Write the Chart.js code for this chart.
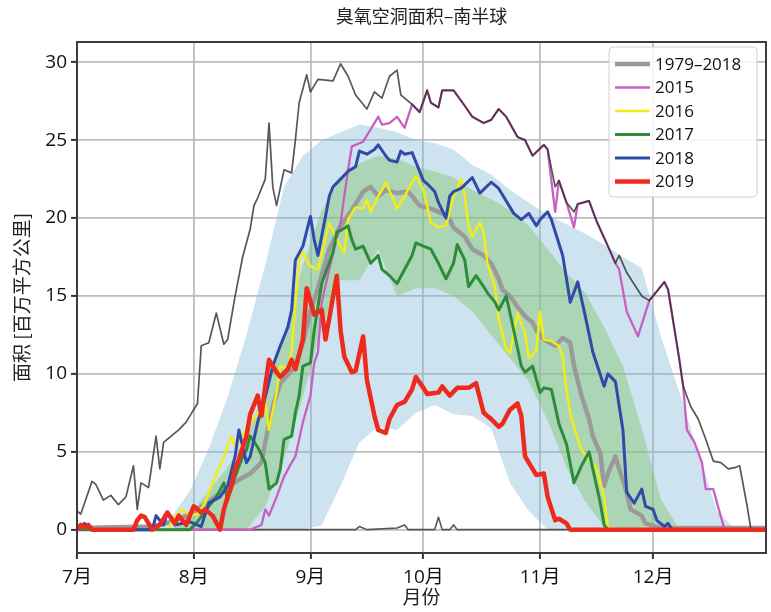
<!DOCTYPE html>
<html>
<head>
<meta charset="utf-8">
<script src="https://cdn.jsdelivr.net/npm/chart.js@4.4.1/dist/chart.umd.min.js"></script>
<style>
html, body { margin: 0; padding: 0; background: #fff; }
</style>
</head>
<body>
<canvas id="grafico" width="771" height="612"></canvas>
<script>
// dias contados a partir de 1 de julho
var monthTicks = [0, 31, 62, 92, 123, 153];
var monthLabels = ['7月', '8月', '9月', '10月', '11月', '12月'];
var yTicks = [0, 5, 10, 15, 20, 25, 30];
var legendLabels = ['1979–2018', '2015', '2016', '2017', '2018', '2019'];

// faixas (percentis)
var bandDays = [20,25,30,35,40,45,50,55,60,65,70,75,80,85,90,95,100,105,110,115,120,125,130,135,140,145,150,155,160,165,170,175];
var blueHigh = [0,0.8,2.5,5.2,8.5,12.5,17,22,24,25,25.5,26,25.8,25.5,25,24.8,24.4,23.4,22.8,21.8,21,20.2,19.6,19,18.3,17.5,16.8,12.5,8.8,5,1.2,0];
var blueLow = [0,0,0,0,0,0,0,0,0,0.3,2.8,5.6,6.6,6.4,7.5,8,7.4,7.3,6.5,3.0,1.2,0,0,0,0,0,0,0,0,0,0,0];
var greenHigh = [0,0,1,2.5,4,6,9,12.5,17,20.5,22.5,23.5,24,23.8,23.3,23,22.6,21.8,21.2,20.5,19.5,18,16.5,15.2,13,10.5,6.5,2,0,0,0,0];
var greenLow = [0,0,0,0,0,0,1.5,4.5,8.5,13,16,16,18,15,15.5,15.5,15,14,12.5,11,9.5,7,4,1.8,0.2,0,0,0,0,0,0,0];

// maximo 1979-2018
var maxDays = [0,1,4,5,7,9,11,13,15,16,17,19,21,22,23,25,27,29,31,32,33,35,37,39,40,42,44,46,47,48,50,51,52,53,55,57,58,59,61,62,64,68,70,72,74,77,79,81,83,85,86,89,91,93,94,96,97,100,103,105,108,110,112,114,117,119,121,124,125,127,128,130,132,133,136,138,141,143,144,146,150,152,156,157,160,161,163,165,167,169,171,173,175,176,178,179,183];
var maxVals = [1.2,1.0,3.1,2.9,1.9,2.2,1.6,2.1,4.1,1.3,3.0,2.7,6.0,3.9,5.6,6.0,6.4,6.9,7.7,8.1,11.8,12.0,13.9,11.9,12.2,15.0,17.5,19.3,20.8,21.3,22.5,26.1,22.0,20.8,23.1,22.9,25.0,27.4,29.2,28.1,28.9,28.8,29.9,29.1,27.9,27.0,28.1,27.7,29.1,29.5,27.9,27.3,26.8,28.2,27.4,27.1,28.2,28.2,27.2,26.5,26.1,26.3,27.0,26.5,25.2,25.0,24.0,24.7,24.4,22.0,22.4,21.0,20.4,20.9,21.1,19.8,18.2,17.1,17.6,16.5,15.0,14.7,15.9,15.4,10.9,9.2,7.9,7.1,5.8,4.4,4.3,3.9,4.0,4.1,1.5,0,0];

// minimo 1979-2018
var minDays = [0,74,75,77,85,87,88,95,96,97,99,100,101,183];
var minVals = [0,0,0.2,0,0.1,0.3,0,0,0.8,0,0,0.3,0,0];

// media 1979-2018
var meanDays = [0,20,25,30,35,39,43,46,49,50,52,54,58,60,62,64,67,70,73,76,78,80,82,85,88,91,94,97,99,100,103,105,108,110,112,113,115,117,119,121,122,124,127,129,131,132,134,136,137,139,140,141,143,144,146,147,150,151,155,183];
var meanVals = [0.1,0.2,0.5,1.0,1.8,2.5,3.2,3.6,4.3,5.6,7.9,9.4,10.5,12.0,14.0,15.5,18.0,19.5,20.5,21.7,22.0,21.4,21.8,21.6,21.7,20.8,20.6,20.3,19.9,19.4,18.8,18.0,17.6,17.1,16.1,15.4,15.0,14.3,13.7,13.3,12.8,12.2,11.8,12.3,12.0,10.5,8.6,7.1,6.0,4.9,2.8,3.6,4.7,3.9,2.4,1.3,0.9,0.4,0.1,0.1];

var days2015 = [0,46,49,50,51,53,55,57,58,60,62,63,64,65,67,70,72,73,76,78,80,81,83,85,87,89,91,93,94,96,97,100,103,105,108,110,112,114,117,119,121,124,125,127,128,130,132,133,136,138,141,143,144,146,149,152,156,157,160,161,162,164,166,167,169,170,172,183];
var vals2015 = [0,0,0.3,1.3,0.9,2.1,3.4,4.3,4.7,6.9,8.6,10.7,11.4,14.6,16.7,19.7,23.1,24.6,24.9,25.7,26.5,26.0,26.1,26.5,25.8,27.3,26.8,28.2,27.4,27.1,28.2,28.2,27.2,26.5,26.1,26.3,27.0,26.5,25.2,25.0,24.0,24.7,24.4,20.4,22.4,21.0,19.4,20.9,21.1,19.8,18.2,17.1,16.7,14.0,12.4,14.7,15.9,15.4,10.9,9.2,6.4,5.6,4.3,2.6,2.6,1.7,0,0];

var days2016 = [0,24,26,28,30,32,34,36,39,41,42,45,47,50,51,53,54,56,57,58,59,60,62,64,67,69,71,72,74,76,77,78,80,81,82,84,85,87,89,90,92,94,96,98,100,102,103,104,105,107,108,109,111,112,114,115,117,119,120,122,123,124,126,128,129,130,131,132,134,136,138,139,140,141,142,183];
var vals2016 = [0,0,0.8,1.3,0.9,1.0,1.7,3.0,4.7,6.0,5.3,6.5,7.1,8.1,6.4,8.8,10.5,10.3,11.5,14.5,17.3,17.8,16.9,16.7,19.7,18.6,17.8,19.9,20.7,20.6,21.2,20.4,21.4,21.8,22.3,21.2,20.6,21.4,22.3,22.7,21.8,19.7,19.4,19.5,21.4,22.5,21.4,19.5,18.8,19.7,19.1,17.1,15.6,13.5,11.6,11.3,13.9,12.6,11.0,11.5,14.0,12.2,12.1,11.8,11.1,9.0,7.5,6.6,5.1,4.5,3.9,3.0,2.1,0.2,0,0];

var days2017 = [0,30,32,35,37,39,40,42,44,45,46,48,50,51,53,54,55,57,58,59,60,62,63,64,65,68,69,70,72,73,74,76,78,80,81,83,85,87,89,90,92,94,96,98,100,101,103,104,106,108,109,111,112,114,116,118,119,121,123,124,126,128,130,132,134,136,137,139,140,141,183];
var vals2017 = [0,0,0.5,1.5,2.1,3.0,1.9,3.4,4.7,5.1,6.0,5.3,4.3,2.6,3.0,3.9,5.8,6.0,7.5,8.6,10.5,10.7,12.8,14.3,15.8,17.8,19.1,19.2,19.5,18.6,18.0,18.2,17.1,17.6,16.7,16.3,15.8,16.7,17.6,18.4,18.2,18.0,17.1,16.1,17.1,18.3,17.3,15.6,16.3,15.6,15.2,14.6,14.1,15.0,12.8,10.5,10.1,10.5,8.8,9.1,9.0,6.8,5.5,3.0,4.1,5.0,3.9,1.7,0.3,0,0];

var days2018 = [0,2,4,20,21,23,24,26,30,33,35,38,40,42,43,45,46,48,50,52,54,55,56,57,58,60,62,63,64,66,67,68,70,72,74,75,77,79,80,82,83,85,86,87,89,90,92,93,95,96,98,99,100,102,105,107,110,112,114,116,118,120,122,123,125,126,129,130,131,133,135,137,140,141,143,145,146,148,150,151,153,154,156,157,158,183];
var vals2018 = [0,0.4,0,0,0.9,0.3,1.1,0.3,0.5,0.2,1.7,2.1,2.8,4.7,6.4,4.3,4.7,6.9,8.5,10.5,11.8,12.4,13.0,14.1,17.3,18.2,20.1,18.6,17.6,20.1,21.4,22.0,22.5,23.0,23.3,24.3,24.1,24.4,24.7,24.0,23.7,23.6,24.3,24.1,24.2,23.6,22.4,22.2,21.7,21.0,20.0,21.4,21.7,21.9,22.6,21.6,22.3,21.9,21.1,20.3,19.9,20.3,19.5,19.9,20.4,19.9,17.6,16.1,14.6,15.9,13.7,11.4,9.2,10.0,9.5,6.4,2.4,1.7,2.6,1.5,1.3,0.6,0.2,0.4,0,0];

var days2019 = [0,1,2,3,4,15,16,17,18,20,22,24,26,27,29,31,33,34,36,38,39,40,41,42,43,45,46,48,49,50,51,53,54,56,57,58,60,61,63,65,66,69,70,71,73,74,76,77,79,80,82,83,85,87,89,90,92,93,96,97,99,101,104,106,108,110,112,113,115,117,118,119,121,122,124,125,127,128,130,131,183];
var vals2019 = [0,0.3,0.1,0.3,0,0,0.6,0.9,0.8,0,0.3,1.1,0.4,0.9,0.3,1.5,1.1,1.3,0.9,0,1.3,2.1,2.8,3.9,4.5,6.0,7.4,8.6,7.3,9.2,10.9,10.1,9.8,10.3,10.9,10.3,12.2,15.5,13.8,14.1,12.2,16.3,12.8,11.1,10.1,10.2,12.4,9.6,7.3,6.4,6.2,7.1,8.0,8.2,9.0,9.8,9.1,8.7,8.8,9.2,8.6,9.1,9.1,9.4,7.5,7.1,6.6,6.8,7.7,8.1,7.3,4.7,3.9,3.5,3.6,2.1,0.6,0.7,0.4,0,0];

var cores = {
    max: 'rgba(45,45,45,0.8)',
    min: '#555555',
    mean: '#9a9a9a',
    a2015: '#c95fc0',
    a2016: '#f2ec1a',
    a2017: '#2d8b3c',
    a2018: '#2f4aa8',
    a2019: '#ee2a1f'
};

function pontos(dias, valores) {
    return dias.map(function (d, i) { return { x: d, y: valores[i] }; });
}

function linha(label, dias, valores, cor, largura, ordem) {
    return {
        label: label,
        data: pontos(dias, valores),
        borderColor: cor,
        borderWidth: largura,
        pointRadius: 0,
        fill: false,
        tension: 0,
        borderJoinStyle: 'round',
        order: ordem
    };
}

var fonte = "'Open Sans', 'Noto Sans CJK SC', sans-serif";
var fonteCJK = "'Noto Sans CJK SC', sans-serif";

var decor = {
    id: 'decor',
    afterDraw: function (chart) {
        var ctx = chart.ctx;
        var a = chart.chartArea;
        ctx.save();
        // moldura
        ctx.strokeStyle = '#3c3c3c';
        ctx.lineWidth = 2;
        ctx.strokeRect(a.left, a.top, a.right - a.left, a.bottom - a.top);

        // titulo e rotulos
        ctx.fillStyle = '#222';
        ctx.textAlign = 'center';
        ctx.textBaseline = 'middle';
        ctx.font = '18px ' + fonteCJK;
        ctx.fillText('臭氧空洞面积–南半球', (a.left + a.right) / 2, 16);
        ctx.font = '19px ' + fonteCJK;
        ctx.fillText('月份', (a.left + a.right) / 2, 597);
        ctx.save();
        ctx.translate(22, (a.top + a.bottom) / 2);
        ctx.rotate(-Math.PI / 2);
        ctx.fillText('面积 [百万平方公里]', 0, 0);
        ctx.restore();

        // legenda
        var bx = 609, by = 47, bw = 148, bh = 150;
        ctx.fillStyle = 'rgba(255,255,255,0.85)';
        ctx.strokeStyle = '#d0d0d0';
        ctx.lineWidth = 1;
        ctx.beginPath();
        ctx.roundRect(bx, by, bw, bh, 4);
        ctx.fill();
        ctx.stroke();
        var itens = [
            [cores.mean, 4.5],
            [cores.a2015, 2.5],
            [cores.a2016, 2.5],
            [cores.a2017, 3],
            [cores.a2018, 3],
            [cores.a2019, 4.5]
        ];
        ctx.font = '17px ' + fonte;
        ctx.textAlign = 'left';
        for (var i = 0; i < itens.length; i++) {
            var y = 64 + i * 23.5;
            ctx.strokeStyle = itens[i][0];
            ctx.lineWidth = itens[i][1];
            ctx.beginPath();
            ctx.moveTo(615, y);
            ctx.lineTo(650, y);
            ctx.stroke();
            ctx.fillStyle = '#111';
            ctx.fillText(legendLabels[i], 655, y + 1);
        }
        ctx.restore();
    }
};

var ctx = document.getElementById('grafico').getContext('2d');
var chart = new Chart(ctx, {
    type: 'line',
    data: {
        datasets: [
            linha('2019', days2019, vals2019, cores.a2019, 4.5, 1),
            linha('2018', days2018, vals2018, cores.a2018, 3, 2),
            linha('2017', days2017, vals2017, cores.a2017, 3, 3),
            linha('2016', days2016, vals2016, cores.a2016, 2.5, 4),
            linha('max', maxDays, maxVals, cores.max, 1.7, 5),
            linha('2015', days2015, vals2015, cores.a2015, 2.3, 6),
            linha('media', meanDays, meanVals, cores.mean, 4.5, 7),
            linha('min', minDays, minVals, cores.min, 1.6, 8),
            {
                label: 'greenLow', data: pontos(bandDays, greenLow),
                borderWidth: 0, pointRadius: 0, fill: false, order: 9
            },
            {
                label: 'greenHigh', data: pontos(bandDays, greenHigh),
                borderWidth: 0, pointRadius: 0, fill: '-1',
                backgroundColor: 'rgba(130,200,110,0.45)', order: 9
            },
            {
                label: 'blueLow', data: pontos(bandDays, blueLow),
                borderWidth: 0, pointRadius: 0, fill: false, order: 10
            },
            {
                label: 'blueHigh', data: pontos(bandDays, blueHigh),
                borderWidth: 0, pointRadius: 0, fill: '-1',
                backgroundColor: 'rgba(130,185,215,0.4)', order: 10
            }
        ]
    },
    options: {
        responsive: false,
        animation: false,
        devicePixelRatio: 1,
        layout: { padding: { top: 42, right: 5, left: 0, bottom: 0 } },
        plugins: {
            legend: { display: false },
            tooltip: { enabled: false },
            title: { display: false }
        },
        scales: {
            x: {
                type: 'linear',
                min: 0,
                max: 183,
                afterBuildTicks: function (s) {
                    s.ticks = monthTicks.map(function (v) { return { value: v }; });
                },
                afterFit: function (s) { s.height = 59; },
                ticks: {
                    autoSkip: false,
                    maxRotation: 0,
                    padding: 7,
                    color: '#111',
                    font: { family: fonte, size: 19 },
                    callback: function (v) { return monthLabels[monthTicks.indexOf(v)]; }
                },
                grid: { color: '#bdbdbd', lineWidth: 1.8, tickColor: '#333', tickLength: 6, tickWidth: 2 },
                border: { display: false }
            },
            y: {
                min: -1.5,
                max: 31.3,
                afterBuildTicks: function (s) {
                    s.ticks = yTicks.map(function (v) { return { value: v }; });
                },
                afterFit: function (s) { s.width = 77; },
                ticks: {
                    padding: 4,
                    color: '#111',
                    font: { family: fonte, size: 19 }
                },
                grid: { color: '#bdbdbd', lineWidth: 1.8, tickColor: '#333', tickLength: 6, tickWidth: 2 },
                border: { display: false }
            }
        }
    },
    plugins: [decor]
});
</script>
</body>
</html>
